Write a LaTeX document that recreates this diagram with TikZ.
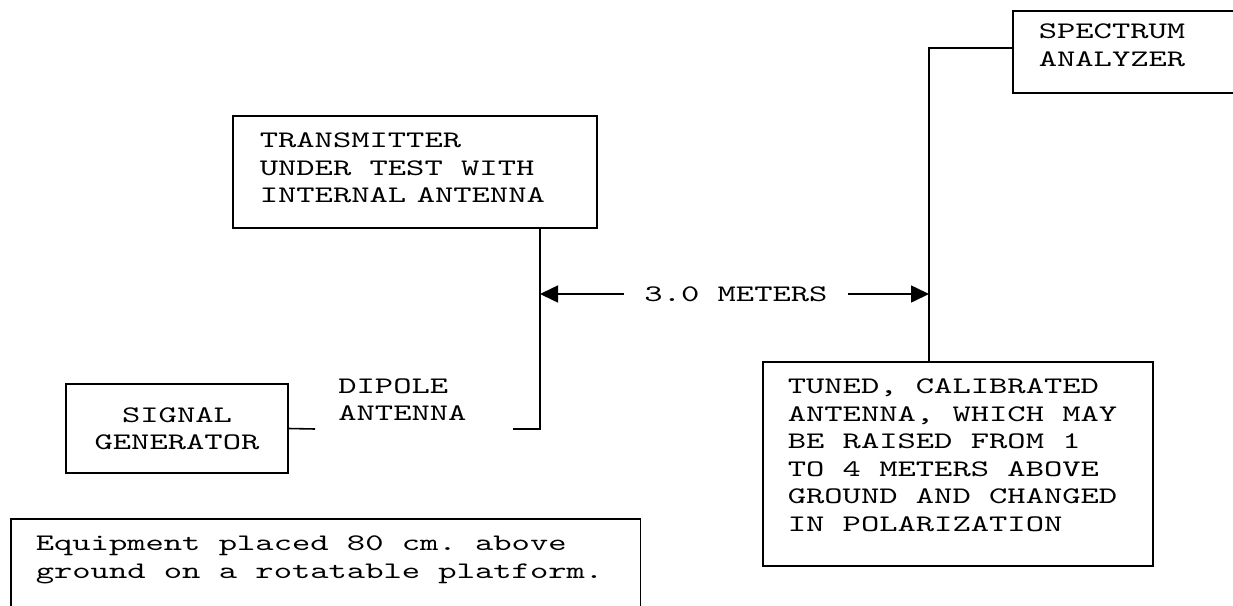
\documentclass[tikz,border=0pt]{standalone}
\usepackage{fontspec}
\usetikzlibrary{arrows.meta}
\newfontfamily\typewriter{lmmono10-regular.otf}[FakeStretch=1.47]
\newcommand{\labelfont}{\typewriter\fontsize{13.5pt}{15.65pt}\selectfont\frenchspacing}
\newcommand{\cellspace}{\spaceskip=10.42pt\relax\xspaceskip=10.42pt\relax}

\tikzset{
  panel/.style={draw, line width=0.9pt, inner ysep=0pt, font=\labelfont,
    execute at begin node=\cellspace},
  caption/.style={anchor=north west, inner sep=0pt, font=\labelfont,
    execute at begin node=\cellspace},
  wire/.style={line width=0.9pt},
  dimarrow/.style={wire, -{Triangle[length=0.36cm,width=0.34cm]}}
}

\begin{document}
\begin{tikzpicture}[x=0.02cm,y=-0.02cm]
    \clip (0,0) rectangle (1233,605);
    \fill[white] (0,0) rectangle (1233,605);
    % Nodes
    \node[panel, anchor=north west, inner xsep=0.52cm, text width=3.92cm,
          text height=0.56cm, text depth=1.08cm] (SA) at (1012,10) {SPECTRUM\\ANALYZER};
    \node[panel, anchor=north west, inner xsep=0.54cm, text width=6.2cm,
          text height=0.64cm, text depth=1.6cm] (TX) at (232,115)
          {TRANSMITTER\\UNDER TEST WITH\\INTERNAL\hspace{6pt}ANTENNA};
    \node[panel, align=center, inner sep=0pt, minimum width=4.44cm,
          minimum height=1.78cm] (SG) at (177,428.5) {SIGNAL\\GENERATOR};
    \node[caption, text width=3.2cm, text height=0.3cm] (DP) at (338,378) {DIPOLE\\ANTENNA};
    \node[inner xsep=0.4cm, inner ysep=0pt, font=\labelfont] (D) at (736,294) {3.0 METERS};
    \node[panel, anchor=north west, inner xsep=0.5cm, text width=6.8cm,
          text height=0.64cm, text depth=3.44cm] (TN) at (762,361)
          {TUNED, CALIBRATED\\ANTENNA, WHICH MAY\\BE RAISED FROM 1\\TO 4 METERS ABOVE\\GROUND AND CHANGED\\IN POLARIZATION};
    \node[panel, anchor=north west, inner xsep=0.5cm, text width=11.6cm,
          text height=0.64cm, text depth=1.8cm] (EQ) at (10,518)
          {Equipment placed 80 cm. above\\ground on a rotatable platform.};
    \coordinate (F) at (540,429);
    \coordinate (DR) at (513,429);
    \coordinate (DL) at (315,429);
    \coordinate (M) at (929,48);
    % Lines
    \draw[wire] (TX.south -| F) -- (F) -- (DR);
    \draw[wire] (SG.east) -- (DL);
    \draw[wire] (SA.west |- M) -- (M) -- (M |- TN.north);
    \draw[dimarrow] (D.west) -- (D.west -| F);
    \draw[dimarrow] (D.east) -- (D.east -| M);
\end{tikzpicture}
\end{document}
